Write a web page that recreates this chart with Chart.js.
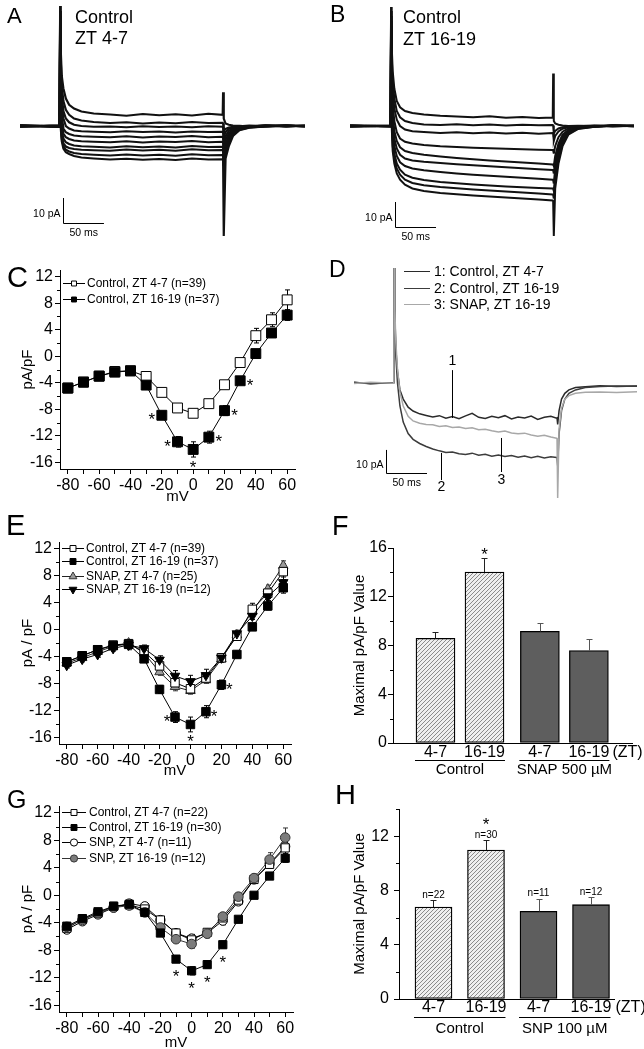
<!DOCTYPE html>
<html>
<head>
<meta charset="utf-8">
<title>Current density, day vs night</title>
<script src="https://cdn.jsdelivr.net/npm/chart.js@4.4.1/dist/chart.umd.min.js"></script>
<style>
  html, body { margin: 0; padding: 0; background: #fff; overflow: hidden; }
  #fig { position: relative; width: 644px; height: 1049px; overflow: hidden; background: #fff; }
  #fig canvas { position: absolute; }
</style>
</head>
<body>
<div id="fig"></div>
<script>
// ---------- I-V data (pA/pF at each step potential) ----------
const mV = [-80, -70, -60, -50, -40, -30, -20, -10, 0, 10, 20, 30, 40, 50, 60];
const mVLabels = [-80, -60, -40, -20, 0, 20, 40, 60];
const ivTicks = [-16, -12, -8, -4, 0, 4, 8, 12];
const ivMinor = [-14, -10, -6, -2, 2, 6, 10];

// C
const cDay = [-4.8, -3.9, -3.0, -2.3, -2.2, -3.05, -5.45, -7.8, -8.6, -7.15, -4.3, -0.95, 3.1, 5.5, 8.5];
const cDayErr = [0.3, 0.25, 0.25, 0.25, 0.25, 0.3, 0.35, 0.4, 0.45, 0.45, 0.4, 0.5, 1.1, 1.05, 1.5];
const cNight = [-4.8, -3.9, -3.0, -2.4, -2.2, -4.35, -8.9, -12.9, -14.05, -12.2, -8.2, -3.7, 0.4, 3.5, 6.2];
const cNightErr = [0.3, 0.3, 0.25, 0.25, 0.3, 0.35, 0.6, 0.8, 1.15, 0.9, 0.75, 0.5, 0.5, 0.6, 0.8];
const cSig = [-20, -10, 0, 10, 20, 30];
const cSigSide = ['left', 'left', 'below', 'right', 'right', 'right'];

// E
const eDay = [-4.8, -3.9, -3.0, -2.3, -2.1, -3.3, -5.4, -7.9, -8.8, -7.2, -4.2, -1.0, 3.0, 5.4, 8.6];
const eDayErr = [0.3, 0.25, 0.25, 0.25, 0.3, 0.3, 0.4, 0.45, 0.5, 0.45, 0.4, 0.5, 0.9, 0.8, 1.2];
const eNight = [-4.8, -3.9, -3.0, -2.4, -2.2, -4.35, -8.9, -13.0, -14.1, -12.2, -8.2, -3.7, 0.4, 3.5, 6.2];
const eNightErr = [0.3, 0.3, 0.25, 0.25, 0.3, 0.35, 0.6, 0.8, 1.1, 0.9, 0.7, 0.5, 0.5, 0.6, 0.8];
const eSnapDay = [-5.0, -4.2, -3.3, -2.5, -2.0, -3.5, -6.3, -8.5, -9.1, -7.5, -4.4, -0.8, 2.7, 6.0, 9.5];
const eSnapDayErr = [0.3, 0.3, 0.3, 0.3, 0.4, 0.4, 0.5, 0.6, 0.5, 0.5, 0.5, 0.5, 0.6, 0.6, 0.7];
const eSnapNight = [-5.3, -4.4, -3.7, -2.8, -2.3, -2.8, -4.5, -6.9, -7.7, -6.8, -4.2, -0.6, 2.0, 4.9, 7.0];
const eSnapNightErr = [0.4, 0.4, 0.4, 0.4, 0.7, 0.5, 0.6, 0.8, 0.9, 0.9, 0.6, 0.5, 0.5, 0.6, 0.8];
const eSig = [-10, 0, 10, 20];
const eSigSide = ['left', 'below', 'right', 'right'];

// G
const gDay = [-4.8, -3.5, -2.6, -1.6, -1.4, -2.0, -3.6, -5.5, -6.5, -5.4, -3.3, -0.7, 2.3, 4.5, 6.9];
const gDayErr = [0.3, 0.3, 0.3, 0.3, 0.3, 0.3, 0.4, 0.5, 0.6, 0.5, 0.5, 0.5, 0.5, 0.6, 0.8];
const gNight = [-4.5, -3.4, -2.4, -1.6, -1.3, -2.5, -5.5, -9.3, -11.0, -10.1, -7.2, -3.5, 0.0, 2.8, 5.4];
const gNightErr = [0.3, 0.3, 0.3, 0.3, 0.3, 0.3, 0.4, 0.5, 0.6, 0.5, 0.5, 0.4, 0.4, 0.5, 0.6];
const gSnpDay = [-5.0, -3.8, -2.8, -1.8, -1.2, -1.6, -3.6, -5.5, -6.3, -5.5, -3.7, -0.9, 2.3, 4.6, 7.1];
const gSnpDayErr = [0.3, 0.3, 0.3, 0.3, 0.3, 0.3, 0.4, 0.5, 0.6, 0.6, 0.6, 0.5, 0.5, 0.6, 0.7];
const gSnpNight = [-4.6, -3.6, -2.6, -1.8, -1.5, -2.5, -4.7, -6.4, -7.1, -5.6, -3.1, -0.2, 2.5, 5.2, 8.4];
const gSnpNightErr = [0.3, 0.3, 0.3, 0.3, 0.3, 0.3, 0.4, 0.5, 0.6, 0.6, 0.5, 0.5, 0.6, 1.0, 1.4];
const gSig = [-10, 0, 10, 20];
const gSigSide = ['below', 'below', 'below', 'below'];

// ---------- maximal current density bars ----------
const ztLabels = ['4-7', '16-19', '4-7', '16-19'];
const fGroups = ['Control', 'SNAP 500 µM'];
const fMax = [8.59, 14.03, 9.16, 7.58];
const fErr = [0.5, 1.12, 0.69, 0.92];
const fSig = [false, true, false, false];
const fTicks = [0, 4, 8, 12, 16];
const hGroups = ['Control', 'SNP 100 µM'];
const hMax = [6.78, 10.98, 6.46, 6.95];
const hErr = [0.49, 0.73, 0.93, 0.56];
const hN = ['n=22', 'n=30', 'n=11', 'n=12'];
const hSig = [false, true, false, false];
const hTicks = [0, 4, 8, 12];
const barMinor = [2, 6, 10, 14];

// ---------- current traces (ms, pA) ----------
const tA = [0, 48.5, 49, 49.8, 51, 53, 56, 60, 66, 75, 90, 110, 130, 150, 170, 190, 210, 230, 247.5, 248, 248.8, 251, 255, 260, 268, 280, 300, 325, 348];
const aTraces = [
  [0.3, -0.2, 48, 30, 20, 15, 11, 8.5, 7, 5.8, 5, 4.6, 4.1, 4.8, 4.3, 4.7, 4.2, 4.9, 4.5, 13.5, 3, 1, 0.5, 0.2, 0.1, -0.2, 0.3, -0.1, 0.2],
  [-0.2, 0.2, 46, 26, 16, 10, 6.5, 4.5, 3, 2.2, 1.6, 1.2, 1.5, 1.0, 1.4, 1.1, 1.6, 1.2, 1.3, 1.0, -2, -1.2, -0.6, -0.3, -0.1, 0.2, -0.2, 0.1, -0.1],
  [0.1, -0.3, 44, 22, 12, 6, 3, 1.5, 0.5, 0, -0.3, -0.2, -0.5, -0.1, -0.4, -0.2, -0.5, -0.1, -0.3, -0.5, -4, -2.5, -1.2, -0.6, -0.3, 0, 0.2, -0.2, 0],
  [-0.3, 0.2, 42, 18, 8, 3, 0, -1, -1.8, -2.1, -2.3, -2.5, -2.1, -2.4, -2.2, -2.6, -2.2, -2.4, -2.3, -2.4, -6, -4, -2, -1, -0.5, -0.2, 0.1, 0.3, -0.2],
  [0.2, -0.1, 40, 14, 4, -1, -2.5, -3.2, -3.8, -4.1, -4.3, -4.5, -4.1, -4.6, -4.2, -4.4, -4.0, -4.5, -4.3, -4.4, -8, -5.5, -3, -1.5, -0.7, -0.2, 0.2, -0.1, 0.1],
  [-0.1, 0.2, 38, 10, 1, -3, -4.5, -5.2, -5.8, -6.1, -6.3, -6.5, -6.1, -6.6, -6.2, -6.4, -6.0, -6.5, -6.3, -6.4, -10, -7, -4, -2, -0.9, -0.3, 0, 0.2, -0.2],
  [0.3, -0.2, 36, 6, -2, -5, -6.5, -7.2, -7.8, -8.1, -8.3, -8.6, -8.1, -8.5, -8.2, -8.6, -8.0, -8.4, -8.3, -8.4, -12, -8.5, -5, -2.5, -1.1, -0.4, 0.1, -0.2, 0.2],
  [-0.2, 0.1, 34, 3, -4, -7, -8.2, -8.8, -9.2, -9.5, -9.7, -9.9, -9.4, -9.8, -9.5, -9.9, -9.3, -9.7, -9.6, -9.8, -14, -10, -6, -3, -1.3, -0.5, -0.1, 0.2, 0],
  [0.1, -0.3, 32, 1, -5, -8, -9.5, -10.2, -10.8, -11.2, -11.5, -11.8, -11.4, -11.8, -11.5, -11.9, -11.3, -11.7, -11.6, -11.8, -16, -11.5, -7, -3.5, -1.5, -0.6, -0.2, 0.1, -0.1],
  [-0.2, 0.2, 30, -1, -6, -9, -10.5, -11.2, -12, -12.6, -13, -13.4, -13.1, -13.5, -13.2, -13.6, -13.0, -13.4, -13.3, -13.5, -44, -13, -8, -4, -1.7, -0.7, -0.2, 0.2, 0]
];

const tB = [0, 49.5, 50, 50.8, 52, 54, 57, 61, 67, 76, 90, 110, 130, 150, 170, 190, 210, 230, 247, 247.5, 248.3, 250, 254, 259, 266, 278, 298, 320, 346];
const bTraces = [
  [0.2, -0.1, 47.6, 32, 22, 15, 10, 7.5, 6, 5.2, 4.6, 4.1, 3.8, 3.5, 3.9, 3.3, 3.6, 3.2, 3.4, 21, 2, 1, 0.5, 0.2, 0, 0.1, -0.2, 0.1, 0],
  [-0.2, 0.1, 46, 28, 18, 11, 6, 3.5, 2, 1.2, 0.6, 0.4, 0.7, 0.3, 0.6, 0.2, 0.5, 0.3, 0.4, 0.2, -3, -2, -1, -0.5, -0.2, 0, 0.2, -0.1, 0.1],
  [0.1, -0.2, 44, 24, 14, 7, 2.5, 0, -1.4, -2.1, -2.4, -2.8, -2.5, -2.9, -2.6, -3.0, -2.7, -3.1, -2.8, -3.0, -6, -4, -2.2, -1.1, -0.5, -0.2, 0, 0.2, -0.1],
  [-0.1, 0.2, 42, 20, 9, 2, -2.5, -5, -6.3, -7, -7.6, -8.1, -8.4, -8.7, -8.9, -9.1, -9.3, -9.5, -9.6, -9.7, -11, -8, -4.5, -2.3, -1, -0.3, 0.1, -0.2, 0.1],
  [0.2, -0.1, 40, 16, 5, -2, -6, -8.5, -10, -10.8, -11.5, -12.2, -12.8, -13.3, -13.8, -14.2, -14.6, -15, -15.4, -15.5, -16, -12, -7, -3.5, -1.6, -0.5, 0, 0.2, -0.1],
  [-0.2, 0.1, 38, 12, 2, -5, -9, -11.5, -13, -13.8, -14.3, -14.8, -15.3, -15.7, -16.1, -16.5, -16.9, -17.3, -17.6, -17.7, -19, -14, -8.5, -4.3, -1.9, -0.6, -0.1, 0.1, 0.2],
  [0.1, -0.2, 36, 8, -2, -8, -12, -14.5, -16, -17, -17.7, -18.4, -19, -19.5, -19.9, -20.3, -20.7, -21.1, -21.5, -21.6, -23, -17, -10, -5, -2.2, -0.7, -0.2, 0.2, 0],
  [-0.1, 0.2, 34, 5, -5, -11, -15, -17.5, -19.5, -20.7, -21.6, -22.4, -22.9, -23.4, -23.8, -24.2, -24.5, -24.8, -25, -25.1, -26, -20, -12, -6, -2.6, -0.8, -0.2, 0.1, 0.1],
  [0.2, -0.1, 32, 2, -8, -13, -17, -19.5, -21.5, -22.8, -23.7, -24.4, -24.9, -25.4, -25.8, -26.2, -26.6, -27, -27.4, -27.5, -29, -22, -13.5, -7, -3, -1, -0.3, 0.1, -0.1],
  [-0.2, 0.1, 30, 0, -10, -15, -19, -21.5, -23.5, -25, -26, -26.8, -27.3, -27.8, -28.2, -28.6, -29, -29.4, -29.8, -30, -44, -25, -15, -8, -3.5, -1.2, -0.3, 0.2, 0]
];

const tD = [0, 20, 48.5, 49, 49.8, 51, 53, 56, 60, 66, 72, 80, 88, 96, 104, 112, 120, 128, 136, 144,
  152, 160, 168, 176, 184, 192, 200, 208, 216, 224, 232, 240, 247, 247.5, 248.3, 250, 253, 257, 262, 270, 282, 300, 320, 345];
const dCtlDay = [0.3, -0.3, 0.2, 50, 30, 15, 5, -3, -7, -10.5, -12.2, -13.4, -14.1, -14.8, -14.2, -15.3, -14.6, -15.5, -14.3, -13.2,
  -14.9, -15.4, -14.5, -15.1, -14.2, -15.6, -14.8, -15.2, -14.4, -15.8, -14.9, -14.5, -15.3, -15.2, -18, -12, -7, -4.5, -3, -2, -1.6, -1.2, -1.5, -1.3];
const dCtlNight = [0.2, -0.2, 0.1, 50, 28, 12, 0, -10, -17, -22, -24.5, -26.3, -27.6, -28.7, -29.5, -30.2, -30, -30.8, -31.1, -30.5,
  -31.4, -31, -31.8, -31.3, -32, -31.5, -32.3, -31.7, -32.5, -31.9, -32.6, -32.1, -32.4, -32.5, -36, -22, -12, -7, -4.5, -3, -2, -1.5, -1.3, -1.4];
const dSnapNight = [-0.2, 0.3, -0.1, 50, 32, 18, 6, -4, -10, -14.5, -16.5, -17.5, -18, -18.2, -18.9, -18.6, -19.3, -19.1, -19.8, -19.5,
  -20.3, -20.1, -20.8, -21.3, -20.9, -21.7, -22.1, -21.8, -22.6, -23.1, -22.7, -23.5, -24, -24.1, -50, -20, -11, -7, -5.5, -4.5, -4, -3.9, -4.1, -3.8];
const dLegend = ['1: Control, ZT 4-7', '2: Control, ZT 16-19', '3: SNAP, ZT 16-19'];

// ---------- helpers ----------
const FONT = "'Liberation Sans', Arial, Helvetica, sans-serif";
Chart.defaults.font.family = FONT;
Chart.defaults.color = '#000';
const fig = document.getElementById('fig');
const ORIGIN = { x: 0, y: 0 };

function makeCanvas(r) {
  const c = document.createElement('canvas');
  c.width = r.w; c.height = r.h;
  c.style.cssText = `left:${r.x}px;top:${r.y}px;width:${r.w}px;height:${r.h}px`;
  fig.appendChild(c);
  return c;
}

// text at page coords (r = canvas rect), alphabetic baseline
function put(ctx, r, s, x, y, size, align, color) {
  ctx.save();
  ctx.font = `${size}px ${FONT}`;
  ctx.fillStyle = color || '#000';
  ctx.textAlign = align || 'left';
  ctx.textBaseline = 'alphabetic';
  ctx.fillText(s, x - r.x, y - r.y);
  ctx.restore();
}

function star(ctx, x, y) { put(ctx, ORIGIN, '*', x, y + 10, 17, 'center'); }

function mark(ctx, shape, x, y, rad, fill, edge, rot) {
  ctx.save();
  ctx.beginPath();
  if (shape === 'rect') {
    const s = rad * Math.SQRT1_2;
    ctx.rect(x - s, y - s, 2 * s, 2 * s);
  } else if (shape === 'circle') {
    ctx.arc(x, y, rad, 0, Math.PI * 2);
  } else {
    let a = (rot || 0) * Math.PI / 180;
    ctx.moveTo(x + Math.sin(a) * rad, y - Math.cos(a) * rad);
    for (let k = 0; k < 2; k++) {
      a += 2 * Math.PI / 3;
      ctx.lineTo(x + Math.sin(a) * rad, y - Math.cos(a) * rad);
    }
    ctx.closePath();
  }
  ctx.fillStyle = fill; ctx.fill();
  ctx.strokeStyle = edge; ctx.lineWidth = 1; ctx.stroke();
  ctx.restore();
}

function padFor(r, area) {
  return { left: area.l - r.x, right: r.x + r.w - area.r, top: area.t - r.y, bottom: r.y + r.h - area.b };
}

// 10 pA / 50 ms calibration bar, drawn through the trace scales
function scaleBar(chart, t0, i0) {
  const { ctx, scales: { x, y } } = chart;
  const x0 = Math.round(x.getPixelForValue(t0)) + 0.5, x1 = x.getPixelForValue(t0 + 50);
  const y0 = Math.round(y.getPixelForValue(i0)) + 0.5, y1 = y.getPixelForValue(i0 + 10);
  ctx.save();
  ctx.strokeStyle = '#000'; ctx.lineWidth = 1;
  ctx.beginPath(); ctx.moveTo(x0, y1); ctx.lineTo(x0, y0); ctx.lineTo(x1, y0); ctx.stroke();
  ctx.restore();
  put(ctx, ORIGIN, '10 pA', x0 - 3, (y0 + y1) / 2 + 6, 10.5, 'right');
  put(ctx, ORIGIN, '50 ms', (x0 + x1) / 2, y0 + 12, 10.5, 'center');
}

function tracePanel(r, area, xr, yr, times, traces, colors, width, deco) {
  const c = makeCanvas(r);
  return new Chart(c, {
    type: 'line',
    data: {
      datasets: traces.map((v, k) => ({
        data: times.map((t, i) => ({ x: t, y: v[i] })),
        borderColor: colors[k], borderWidth: width, pointRadius: 0, tension: 0, fill: false
      }))
    },
    options: {
      responsive: false, animation: false, events: [],
      layout: { padding: padFor(r, area), autoPadding: false },
      scales: {
        x: { type: 'linear', display: false, min: xr[0], max: xr[1] },
        y: { type: 'linear', display: false, min: yr[0], max: yr[1] }
      },
      plugins: { legend: { display: false }, tooltip: { enabled: false } }
    },
    plugins: [deco]
  });
}

function ivPanel(r, area, yTitle, sets, leg, sig, letter) {
  const c = makeCanvas(r);
  const titleLeft = 19;
  const deco = {
    id: 'ivDeco',
    beforeDatasetsDraw(chart) {
      const { ctx, scales: { x, y } } = chart;
      ctx.save(); ctx.lineWidth = 1;
      sets.forEach(s => {
        ctx.strokeStyle = s.edge;
        ctx.beginPath();
        mV.forEach((v, i) => {
          const px = Math.round(x.getPixelForValue(v)) + 0.5;
          const lo = y.getPixelForValue(s.vals[i] - s.err[i]);
          const hi = y.getPixelForValue(s.vals[i] + s.err[i]);
          ctx.moveTo(px, lo); ctx.lineTo(px, hi);
          ctx.moveTo(px - 2.5, lo); ctx.lineTo(px + 2.5, lo);
          ctx.moveTo(px - 2.5, hi); ctx.lineTo(px + 2.5, hi);
        });
        ctx.stroke();
      });
      ctx.restore();
    },
    afterDraw(chart) {
      const { ctx, chartArea: a, scales: { x, y } } = chart;
      ctx.save(); ctx.strokeStyle = '#000'; ctx.lineWidth = 1; ctx.beginPath();
      ivMinor.forEach(v => {
        const py = Math.round(y.getPixelForValue(v)) + 0.5;
        ctx.moveTo(a.left - 3, py); ctx.lineTo(a.left, py);
      });
      ctx.stroke(); ctx.restore();

      sets.forEach((s, k) => {
        const yy = leg.rows[k] - r.y + 0.5;
        ctx.save(); ctx.strokeStyle = s.line; ctx.lineWidth = 1; ctx.beginPath();
        ctx.moveTo(leg.x0 - r.x, yy); ctx.lineTo(leg.x1 - r.x, yy); ctx.stroke(); ctx.restore();
        mark(ctx, s.shape, (leg.x0 + leg.x1) / 2 - r.x, yy, leg.r[k], s.fill, s.edge, s.rot);
        put(ctx, r, s.label, leg.tx, leg.rows[k] + leg.size * 0.36, leg.size);
      });

      const ref = sets[sig.set];
      sig.at.forEach((v, k) => {
        const i = mV.indexOf(v);
        const px = x.getPixelForValue(v), py = y.getPixelForValue(ref.vals[i]);
        const side = sig.side[k];
        const dx = side === 'left' ? -sig.dx : side === 'right' ? sig.dx : 0;
        const dy = side === 'below' ? sig.dy : 0;
        star(ctx, px + dx, py + dy);
      });
      put(ctx, r, letter.text, letter.x, letter.y, letter.size);
    }
  };
  const axisCommon = {
    grid: { drawOnChartArea: false, tickLength: 5, color: '#000', lineWidth: 1 },
    border: { display: true, color: '#000', width: 1 }
  };
  return new Chart(c, {
    type: 'line',
    data: {
      datasets: sets.map(s => ({
        data: mV.map((v, i) => ({ x: v, y: s.vals[i] })),
        order: s.order,
        borderColor: s.line, borderWidth: 1, tension: 0, fill: false,
        pointStyle: s.shape, pointRadius: s.r, pointRotation: s.rot || 0,
        pointBackgroundColor: s.fill, pointBorderColor: s.edge, pointBorderWidth: 1
      }))
    },
    options: {
      responsive: false, animation: false, events: [],
      layout: { padding: { left: titleLeft, right: r.x + r.w - area.r, top: area.t - r.y, bottom: 0 }, autoPadding: false },
      scales: {
        x: Object.assign({
          type: 'linear', min: -85, max: 65,
          afterFit: s => { s.height = r.y + r.h - area.b; },
          afterBuildTicks: s => { s.ticks = mV.map(v => ({ value: v })); },
          ticks: { autoSkip: false, maxRotation: 0, padding: 2, font: { size: 16 }, color: '#000',
            callback: v => (mVLabels.includes(v) ? String(v) : '') },
          title: { display: true, text: 'mV', font: { size: 15 }, color: '#000', padding: 0 }
        }, axisCommon),
        y: Object.assign({
          type: 'linear', min: -17, max: 13,
          afterFit: s => { s.width = area.l - r.x - titleLeft; },
          afterBuildTicks: s => { s.ticks = ivTicks.map(v => ({ value: v })); },
          ticks: { padding: 2, font: { size: 16 }, color: '#000' },
          title: { display: true, text: yTitle, font: { size: 15 }, color: '#000', padding: 0 }
        }, axisCommon)
      },
      plugins: { legend: { display: false }, tooltip: { enabled: false } }
    },
    plugins: [deco]
  });
}

function makeHatch(ctx) {
  const p = document.createElement('canvas');
  p.width = 4; p.height = 4;
  const g = p.getContext('2d');
  g.fillStyle = '#eeeeee'; g.fillRect(0, 0, 4, 4);
  g.strokeStyle = '#8a8a8a'; g.lineWidth = 1;
  g.beginPath();
  g.moveTo(0, 4); g.lineTo(4, 0);
  g.moveTo(-1, 1); g.lineTo(1, -1);
  g.moveTo(3, 5); g.lineTo(5, 3);
  g.stroke();
  return ctx.createPattern(p, 'repeat');
}

function barPanel(r, area, o) {
  const c = makeCanvas(r);
  const hatch = makeHatch(c.getContext('2d'));
  const grp = o.vals.map((v, i) => Math.floor(i / 2));
  const pos = o.vals.map((v, i) => grp[i] * o.groupStep + (i % 2));
  const titleLeft = 29;
  const deco = {
    id: 'barDeco',
    afterDatasetsDraw(chart) {
      const { ctx, scales: { x, y } } = chart;
      ctx.save(); ctx.lineWidth = 1;
      o.vals.forEach((v, i) => {
        const px = Math.round(x.getPixelForValue(pos[i])) + 0.5;
        const y0 = y.getPixelForValue(v), y1 = Math.round(y.getPixelForValue(v + o.err[i])) + 0.5;
        ctx.strokeStyle = grp[i] === 0 ? '#222' : '#555';
        ctx.beginPath();
        ctx.moveTo(px, y0); ctx.lineTo(px, y1);
        ctx.moveTo(px - 3, y1); ctx.lineTo(px + 3, y1);
        ctx.stroke();
      });
      ctx.restore();
    },
    afterDraw(chart) {
      const { ctx, chartArea: a, scales: { x, y } } = chart;
      ctx.save(); ctx.strokeStyle = '#000'; ctx.lineWidth = 1; ctx.beginPath();
      barMinor.forEach(v => {
        if (v > o.yMax) return;
        const py = Math.round(y.getPixelForValue(v)) + 0.5;
        ctx.moveTo(a.left - 3, py); ctx.lineTo(a.left, py);
      });
      ctx.stroke(); ctx.restore();

      const half = o.barW / 2;
      o.vals.forEach((v, i) => {
        const px = x.getPixelForValue(pos[i]);
        put(ctx, ORIGIN, ztLabels[i], px, o.ztBase - r.y, 16, 'center');
        const top = y.getPixelForValue(v + o.err[i]);
        if (o.n) put(ctx, ORIGIN, o.n[i], px, top - 2.5, 10, 'center');
        if (o.sig[i]) star(ctx, px, top + o.starDy);
      });
      const last = x.getPixelForValue(pos[pos.length - 1]) + half;
      put(ctx, ORIGIN, '(ZT)', last + o.ztGap, o.ztBase - r.y, 16, 'left');

      o.groups.forEach((g, k) => {
        const i0 = k * 2, i1 = k * 2 + 1;
        const l = x.getPixelForValue(pos[i0]) - half - 1, rr = x.getPixelForValue(pos[i1]) + half + 1;
        const ly = Math.round(o.lineY - r.y) + 0.5;
        ctx.save(); ctx.strokeStyle = '#000'; ctx.lineWidth = 1;
        ctx.beginPath(); ctx.moveTo(l, ly); ctx.lineTo(rr, ly); ctx.stroke(); ctx.restore();
        put(ctx, ORIGIN, g, (l + rr) / 2, o.groupBase - r.y, 15, 'center');
      });
      put(ctx, r, o.letter.text, o.letter.x, o.letter.y, o.letter.size);
    }
  };
  return new Chart(c, {
    type: 'bar',
    data: {
      datasets: [{
        data: pos.map((p, i) => ({ x: p, y: o.vals[i] })),
        backgroundColor: grp.map(g => (g === 0 ? hatch : '#5e5e5e')),
        borderColor: '#000', borderWidth: 1.3, borderSkipped: false,
        barThickness: o.barW
      }]
    },
    options: {
      responsive: false, animation: false, events: [],
      layout: { padding: { left: titleLeft, right: r.x + r.w - area.r, top: area.t - r.y, bottom: 0 }, autoPadding: false },
      scales: {
        x: {
          type: 'linear', min: o.xMin, max: o.xMax, offset: false, bounds: 'data',
          afterFit: s => { s.height = r.y + r.h - area.b; },
          ticks: { display: false },
          grid: { display: false, offset: false },
          border: { display: true, color: '#000', width: 1 }
        },
        y: {
          type: 'linear', min: 0, max: o.yMax,
          afterFit: s => { s.width = area.l - r.x - titleLeft; },
          afterBuildTicks: s => { s.ticks = o.ticks.map(v => ({ value: v })); },
          ticks: { padding: o.tickPad, font: { size: 16 }, color: '#000' },
          grid: { drawOnChartArea: false, tickLength: 5, color: '#000', lineWidth: 1 },
          border: { display: true, color: '#000', width: 1 },
          title: { display: true, text: 'Maximal pA/pF Value', font: { size: 15 }, color: '#000', padding: 0 }
        }
      },
      plugins: { legend: { display: false }, tooltip: { enabled: false } }
    },
    plugins: [deco]
  });
}

// ---------- panel A ----------
const rA = { x: 0, y: 0, w: 322, h: 250 };
tracePanel(rA, { l: 20, r: 305, t: 0, b: 250 }, [0, 348], [-49.6, 50.4], tA, aTraces,
  aTraces.map(() => '#111'), 2.2, {
    id: 'decoA',
    afterDraw(chart) {
      const ctx = chart.ctx;
      put(ctx, rA, 'A', 7, 23, 22);
      put(ctx, rA, 'Control', 75, 23, 18);
      put(ctx, rA, 'ZT 4-7', 75, 44, 18);
      scaleBar(chart, 52.5, -38.8);
    }
  });

// ---------- panel B ----------
const rB = { x: 322, y: 0, w: 322, h: 250 };
tracePanel(rB, { l: 350, r: 634, t: 0, b: 250 }, [0, 346], [-49.6, 50.4], tB, bTraces,
  bTraces.map(() => '#111'), 2.0, {
    id: 'decoB',
    afterDraw(chart) {
      const ctx = chart.ctx;
      put(ctx, rB, 'B', 330, 22, 23);
      put(ctx, rB, 'Control', 403, 23, 18);
      put(ctx, rB, 'ZT 16-19', 403, 45, 18);
      scaleBar(chart, 54.8, -40.4);
    }
  });

// ---------- panel D ----------
const rD = { x: 322, y: 255, w: 322, h: 250 };
const dColors = ['#2a2a2a', '#3c3c3c', '#a8a8a8'];
tracePanel(rD, { l: 354, r: 637, t: 262, b: 500 }, [0, 345], [-50.87, 52.61], tD,
  [dSnapNight, dCtlNight, dCtlDay], [dColors[2], dColors[1], dColors[0]], 1.5, {
    id: 'decoD',
    afterDraw(chart) {
      const { ctx, scales: { x, y } } = chart;
      put(ctx, rD, 'D', 329, 277, 23);
      [271, 288, 304].forEach((yy, k) => {
        ctx.save(); ctx.strokeStyle = dColors[k]; ctx.lineWidth = 1; ctx.beginPath();
        ctx.moveTo(404 - rD.x, yy - rD.y + 0.5); ctx.lineTo(430 - rD.x, yy - rD.y + 0.5); ctx.stroke(); ctx.restore();
        put(ctx, rD, dLegend[k], 434, yy + 5, 14);
      });
      // pointer lines 1, 2, 3: [time, from pA, to pA, label, label baseline pA]
      [[119.5, 5.6, -15.2, '1', 7.8], [106, -30.4, -42.2, '2', -47], [179.2, -23.9, -38.7, '3', -44]].forEach(p => {
        const px = Math.round(x.getPixelForValue(p[0])) + 0.5;
        ctx.save(); ctx.strokeStyle = '#000'; ctx.lineWidth = 1; ctx.beginPath();
        ctx.moveTo(px, y.getPixelForValue(p[1])); ctx.lineTo(px, y.getPixelForValue(p[2])); ctx.stroke(); ctx.restore();
        put(ctx, ORIGIN, p[3], px, y.getPixelForValue(p[4]), 14, 'center');
      });
      scaleBar(chart, 39, -39.1);
    }
  });

// ---------- panel C ----------
ivPanel({ x: 0, y: 255, w: 322, h: 251 }, { l: 60, r: 295, t: 270, b: 469 }, 'pA/pF', [
  { label: 'Control, ZT 4-7 (n=39)', vals: cDay, err: cDayErr, shape: 'rect', r: 7, fill: '#fff', edge: '#000', line: '#000', order: 1 },
  { label: 'Control, ZT 16-19 (n=37)', vals: cNight, err: cNightErr, shape: 'rect', r: 7, fill: '#000', edge: '#000', line: '#000', order: 0 }
], { rows: [283, 299], x0: 63, x1: 85, tx: 87, size: 12, r: [3.5, 3.5] },
  { set: 1, at: cSig, side: cSigSide, dx: 10, dy: 14 },
  { text: 'C', x: 7, y: 287, size: 29 });

// ---------- panel E ----------
ivPanel({ x: 0, y: 508, w: 322, h: 272 }, { l: 59, r: 291, t: 542, b: 744 }, 'pA / pF', [
  { label: 'Control, ZT 4-7 (n=39)', vals: eDay, err: eDayErr, shape: 'rect', r: 6, fill: '#fff', edge: '#000', line: '#000', order: 2 },
  { label: 'Control, ZT 16-19 (n=37)', vals: eNight, err: eNightErr, shape: 'rect', r: 6, fill: '#000', edge: '#000', line: '#000', order: 0 },
  { label: 'SNAP, ZT 4-7 (n=25)', vals: eSnapDay, err: eSnapDayErr, shape: 'triangle', r: 5.5, fill: '#9c9c9c', edge: '#333', line: '#222', order: 3 },
  { label: 'SNAP, ZT 16-19 (n=12)', vals: eSnapNight, err: eSnapNightErr, shape: 'triangle', r: 5.5, rot: 180, fill: '#000', edge: '#000', line: '#000', order: 1 }
], { rows: [548, 561, 576, 589], x0: 62, x1: 84, tx: 86, size: 12, r: [4.2, 4.2, 4.5, 4.5] },
  { set: 1, at: eSig, side: eSigSide, dx: 8, dy: 13 },
  { text: 'E', x: 6, y: 535, size: 29 });

// ---------- panel G ----------
ivPanel({ x: 0, y: 785, w: 322, h: 267 }, { l: 59, r: 293, t: 806, b: 1012 }, 'pA / pF', [
  { label: 'Control, ZT 4-7 (n=22)', vals: gDay, err: gDayErr, shape: 'rect', r: 5.8, fill: '#fff', edge: '#000', line: '#000', order: 2 },
  { label: 'Control, ZT 16-19 (n=30)', vals: gNight, err: gNightErr, shape: 'rect', r: 5.8, fill: '#000', edge: '#000', line: '#000', order: 0 },
  { label: 'SNP, ZT 4-7 (n=11)', vals: gSnpDay, err: gSnpDayErr, shape: 'circle', r: 4.6, fill: '#fff', edge: '#000', line: '#000', order: 3 },
  { label: 'SNP, ZT 16-19 (n=12)', vals: gSnpNight, err: gSnpNightErr, shape: 'circle', r: 4.8, fill: '#7c7c7c', edge: '#333', line: '#333', order: 1 }
], { rows: [812, 827, 842, 858], x0: 62, x1: 86, tx: 89, size: 12, r: [4.2, 4.2, 3.6, 3.6] },
  { set: 1, at: gSig, side: gSigSide, dx: 10, dy: 13 },
  { text: 'G', x: 7, y: 808, size: 25 });

// ---------- panel F ----------
barPanel({ x: 322, y: 508, w: 322, h: 277 }, { l: 393, r: 632, t: 548, b: 743 }, {
  vals: fMax, err: fErr, sig: fSig, n: null, groups: fGroups, yMax: 16, ticks: fTicks,
  groupStep: 2.13, xMin: -0.867, xMax: 4.01, barW: 39, tickPad: 1,
  ztBase: 757, lineY: 759.5, groupBase: 774, ztGap: 4, starDy: -8,
  letter: { text: 'F', x: 332, y: 535, size: 27 }
});

// ---------- panel H ----------
barPanel({ x: 322, y: 785, w: 322, h: 267 }, { l: 399, r: 614, t: 809, b: 999 }, {
  vals: hMax, err: hErr, sig: hSig, n: hN, groups: hGroups, yMax: 14, ticks: hTicks,
  groupStep: 2.0, xMin: -0.657, xMax: 3.438, barW: 37, tickPad: 5,
  ztBase: 1012, lineY: 1017, groupBase: 1033, ztGap: 6, starDy: -20.5,
  letter: { text: 'H', x: 335, y: 804, size: 29 }
});
</script>
</body>
</html>
